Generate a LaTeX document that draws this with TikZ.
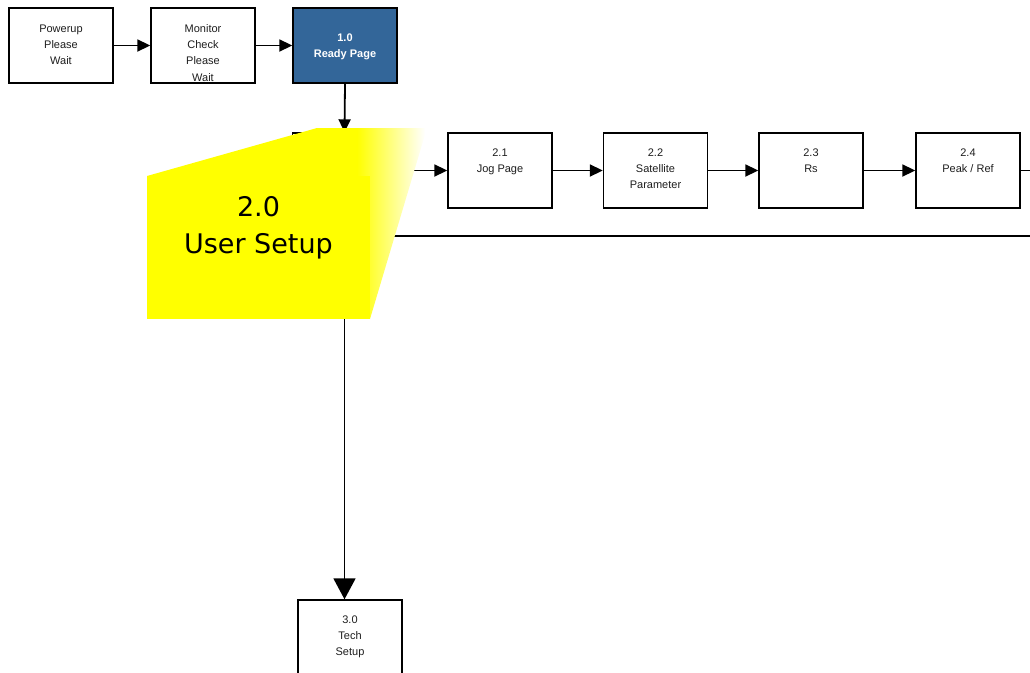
\documentclass[tikz,border=0pt]{standalone}
\usepackage{fontspec}
\setmainfont{Liberation Sans}
\newfontfamily\bigfont{DejaVu Sans}
\usetikzlibrary{arrows.meta}
\definecolor{readyblue}{RGB}{51,102,153}
\definecolor{txtgray}{RGB}{30,30,30}
\definecolor{calloutyellow}{RGB}{255,255,0}
\tikzset{
  box/.style={draw=black, line width=1.4pt, fill=white, minimum width=104pt, minimum height=75pt, inner sep=0pt},
  txt/.style={font=\fontsize{11}{16.2}\selectfont, align=center, text=txtgray, inner sep=0pt, anchor=north},
  conn/.style={line width=1.8pt, -{Triangle[length=13pt,width=12pt]}},
  bigconn/.style={line width=1.8pt, -{Triangle[length=21pt,width=22pt]}},
  plain/.style={line width=1.8pt}
}
\begin{document}
\begin{tikzpicture}[x=1pt,y=-1pt]
\useasboundingbox (0,0) rectangle (1030,672);
% boxes
\node[box] (pw) at (61,45.5) {};
\node[box] (mc) at (203,45.5) {};
\node[box, fill=readyblue] (rp) at (345,45.5) {};
\node[box] (b20) at (344.5,170.5) {};
\node[box] (b21) at (500,170.5) {};
\node[box] (b22) at (655.5,170.5) {};
\node[box] (b23) at (811,170.5) {};
\node[box] (b24) at (968,170.5) {};
\node[box] (b30) at (350,637.5) {};
% texts
\node[txt] (tpw) at ([yshift=-17]pw.north) {Powerup\\Please\\Wait};
\node[txt] (tmc) at ([yshift=-17]mc.north) {Monitor\\Check\\Please\\Wait};
\node[txt, text=white, font=\fontsize{11}{16.2}\selectfont\bfseries] (trp) at ([yshift=-26]rp.north) {1.0\\Ready Page};
\node[txt] (t21) at ([yshift=-16]b21.north) {2.1\\Jog Page};
\node[txt] (t22) at ([yshift=-16]b22.north) {2.2\\Satellite\\Parameter};
\node[txt] (t23) at ([yshift=-16]b23.north) {2.3\\Rs};
\node[txt] (t24) at ([yshift=-16]b24.north) {2.4\\Peak / Ref};
\node[txt] (t30) at ([yshift=-16]b30.north) {3.0\\Tech\\Setup};
% connectors
\coordinate (br) at (344.5,236);
\coordinate (re) at (1031,236);
\coordinate (oe) at (1031,170.5);
\draw[conn] (pw.east) -- (mc.west);
\draw[conn] (mc.east) -- (rp.west);
\draw[conn] (rp.south) -- (b20.north);
\draw[conn] (b20.east) -- (b21.west);
\draw[conn] (b21.east) -- (b22.west);
\draw[conn] (b22.east) -- (b23.west);
\draw[conn] (b23.east) -- (b24.west);
\draw[plain] (b24.east) -- (oe);
\draw[plain] (br) -- (re);
\draw[bigconn] (b20.south) -- (b20.south |- b30.north);
% yellow 3D callout
\begin{scope}
  \clip (147,176) -- (317,128) -- (427,128) -- (370,319) -- (370,176) -- cycle;
  \fill[calloutyellow] (140,120) rectangle (358,330);
  \shade[left color=calloutyellow, right color=white] (357,120) rectangle (425,330);
  \fill[white] (424.5,120) rectangle (440,330);
\end{scope}
\fill[calloutyellow] (147,176) rectangle (370,319);
\node[font=\bigfont\fontsize{27}{37}\selectfont, align=center, inner sep=0pt] (u20) at (258.5,228) {2.0\\User Setup};
\end{tikzpicture}
\end{document}
